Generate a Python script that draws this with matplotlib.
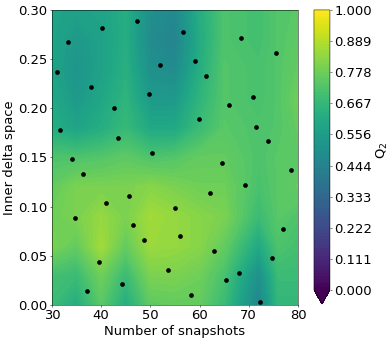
import numpy as np
import matplotlib
matplotlib.use("Agg")
import matplotlib.pyplot as plt

# grid nodes of the response surface
x_nodes = [30, 35, 40, 45, 50, 55, 60, 65, 72, 76, 80]
y_nodes = [0.00, 0.03, 0.06, 0.09, 0.12, 0.15, 0.18, 0.21, 0.24, 0.27, 0.30]

# Q2 values, one row per y node (bottom to top)
q2_rows = [
    [0.68, 0.62, 0.74, 0.62, 0.75, 0.76, 0.76, 0.68, 0.45, 0.66, 0.66],
    [0.70, 0.68, 0.78, 0.68, 0.80, 0.80, 0.78, 0.71, 0.50, 0.68, 0.68],
    [0.80, 0.76, 0.86, 0.76, 0.85, 0.84, 0.82, 0.76, 0.60, 0.72, 0.70],
    [0.78, 0.80, 0.84, 0.80, 0.86, 0.84, 0.82, 0.80, 0.68, 0.74, 0.72],
    [0.76, 0.80, 0.80, 0.80, 0.82, 0.80, 0.78, 0.78, 0.71, 0.74, 0.76],
    [0.72, 0.72, 0.73, 0.75, 0.72, 0.73, 0.76, 0.76, 0.72, 0.74, 0.74],
    [0.62, 0.58, 0.62, 0.67, 0.60, 0.60, 0.68, 0.74, 0.72, 0.73, 0.76],
    [0.60, 0.54, 0.59, 0.65, 0.54, 0.54, 0.65, 0.73, 0.71, 0.73, 0.78],
    [0.58, 0.52, 0.57, 0.63, 0.50, 0.48, 0.62, 0.73, 0.71, 0.73, 0.76],
    [0.58, 0.54, 0.57, 0.62, 0.48, 0.45, 0.61, 0.72, 0.70, 0.73, 0.75],
    [0.58, 0.57, 0.58, 0.62, 0.50, 0.47, 0.62, 0.72, 0.70, 0.73, 0.74],
]

# sampled snapshots / delta points
snap_x = [31.0, 33.25, 31.6, 34.0, 37.9, 40.2, 42.6, 43.35, 47.3, 49.65,
          50.4, 51.95, 56.6, 59.0, 59.8, 61.4, 68.4, 75.5, 70.8, 66.0,
          71.5, 73.9, 64.5, 78.6, 36.3, 45.7, 41.0, 34.8, 46.5, 55.1,
          55.95, 48.8, 39.5, 53.6, 44.2, 37.1, 58.3, 69.2, 62.1, 77.0,
          62.9, 74.65, 68.0, 65.3, 72.3]
snap_y = [0.237, 0.267, 0.178, 0.148, 0.222, 0.282, 0.200, 0.170, 0.289, 0.215,
          0.155, 0.244, 0.278, 0.248, 0.189, 0.233, 0.271, 0.256, 0.211, 0.2035,
          0.181, 0.1665, 0.144, 0.137, 0.133, 0.111, 0.1035, 0.0885, 0.081, 0.099,
          0.070, 0.066, 0.0437, 0.036, 0.021, 0.014, 0.010, 0.122, 0.114, 0.077,
          0.055, 0.0475, 0.033, 0.025, 0.003]

cbar_ticks = np.linspace(0, 1, 10)

DPI = 45
plt.rcParams["font.size"] = 21

fig = plt.figure(figsize=(390 / DPI, 342 / DPI), dpi=DPI)
ax = fig.add_axes([0.133, 0.108, 0.631, 0.863])
cax = fig.add_axes([0.805, 0.111, 0.041, 0.860])

X, Y = np.meshgrid(x_nodes, y_nodes)
Z = np.array(q2_rows)
cs = ax.contourf(X, Y, Z, levels=np.linspace(0, 1, 100), cmap="viridis",
                 vmin=0, vmax=1, extend="min")
ax.scatter(snap_x, snap_y, s=40, c="black", zorder=3)

ax.set_xlim(30, 80)
ax.set_ylim(0, 0.30)
ax.set_xticks([30, 40, 50, 60, 70, 80])
ax.set_yticks([0.00, 0.05, 0.10, 0.15, 0.20, 0.25, 0.30])
ax.set_xlabel("Number of snapshots")
ax.set_ylabel("Inner delta space")

cb = fig.colorbar(cs, cax=cax, ticks=cbar_ticks, format="%.3f")
cb.set_label("Q$_2$")

fig.savefig("out.png", dpi=DPI)
